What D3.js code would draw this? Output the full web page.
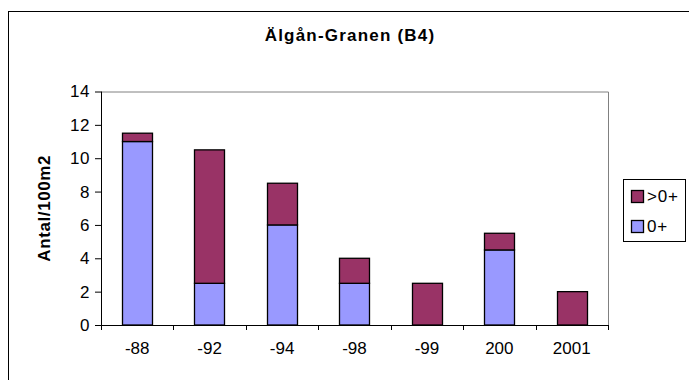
<!DOCTYPE html>
<html><head><meta charset="utf-8">
<script src="https://cdn.jsdelivr.net/npm/d3@7"></script>
<style>body{margin:0;background:#fff}svg{display:block}text{font-family:"Liberation Sans",Arial,sans-serif}</style>
</head><body>
<script>
const categories = ["-88","-92","-94","-98","-99","200","2001"];
const young = [11, 2.5, 6, 2.5, 0, 4.5, 0];      // 0+
const older = [0.5, 8, 2.5, 1.5, 2.5, 1, 2];     // >0+
const yTicks = [0,2,4,6,8,10,12,14];
const seriesNames = ["0+", ">0+"];
const colors = {"0+":"#9999FF", ">0+":"#993366"};

const W = 689, H = 380;
const svg = d3.select("body").append("svg").attr("width", W).attr("height", H);
svg.append("rect").attr("x",8.5).attr("y",11.5).attr("width",W+10).attr("height",H+10)
  .attr("fill","#fff").attr("stroke","#000").attr("stroke-width",1);

const L = 101, R = 608, T = 91.5, B = 325;
const x = d3.scaleBand().domain(categories).range([L, R]).paddingInner(0.58).paddingOuter(0.29);
const y = d3.scaleLinear().domain([0, 14]).range([B, T]);

// plot area border (gray)
svg.append("path").attr("d", `M${L},${T+0.5}H${R+0.5}V${B}`).attr("fill","none").attr("stroke","#808080");

const data = categories.map((c,i)=>({cat:c, "0+":young[i], ">0+":older[i]}));
const stack = d3.stack().keys(seriesNames)(data);
svg.append("g").selectAll("g").data(stack).join("g")
  .attr("fill", d=>colors[d.key])
  .selectAll("rect").data(d=>d.filter(p=>p[1]-p[0]>0)).join("rect")
  .attr("x", d=>Math.round(x(d.data.cat))+0.5)
  .attr("width", Math.round(x.bandwidth()))
  .attr("y", d=>y(d[1]))
  .attr("height", d=>y(d[0])-y(d[1]))
  .attr("stroke","#000").attr("stroke-width",1.3);

// y axis
const ya = svg.append("g").attr("transform",`translate(${L},0)`)
  .call(d3.axisLeft(y).tickValues(yTicks).tickSize(6).tickPadding(5).tickFormat(d3.format("d")));
ya.select(".domain").attr("d", `M0.5,${T}V${B}`).attr("stroke","#000");
ya.selectAll("text").attr("font-size",17).attr("letter-spacing",0.6).attr("fill","#000")
  .attr("font-family","Liberation Sans, Arial, sans-serif");

// x axis
const xa = svg.append("g").attr("transform",`translate(0,${B})`);
xa.append("line").attr("x1",L).attr("x2",R+1).attr("y1",0.5).attr("y2",0.5).attr("stroke","#000");
const step = (R-L)/categories.length;
d3.range(categories.length+1).forEach(i=>{
  const xx = Math.round(L+i*step)+0.5;
  xa.append("line").attr("x1",xx).attr("x2",xx).attr("y1",0).attr("y2",5).attr("stroke","#000");
});
xa.selectAll("text.lbl").data(categories).join("text").attr("class","lbl")
  .attr("x", d=>x(d)+x.bandwidth()/2).attr("y", 29)
  .attr("text-anchor","middle").attr("font-size",17).attr("fill","#000").text(d=>d);

// title
svg.append("text").attr("x",350).attr("y",41).attr("text-anchor","middle")
  .attr("font-size",17).attr("letter-spacing",1.2).attr("font-weight","bold").text("Älgån-Granen (B4)");
// y label
svg.append("text").attr("transform",`translate(50,${(T+B)/2}) rotate(-90)`).attr("text-anchor","middle")
  .attr("font-size",17).attr("letter-spacing",0.6).attr("font-weight","bold").text("Antal/100m2");

// legend
const lg = svg.append("g");
lg.append("rect").attr("x",623.5).attr("y",179.5).attr("width",62).attr("height",62)
  .attr("fill","#fff").attr("stroke","#000");
const legItems = [">0+","0+"];
legItems.forEach((k,i)=>{
  lg.append("rect").attr("x",631.5).attr("y",190.5+i*30).attr("width",12).attr("height",12)
    .attr("fill",colors[k]).attr("stroke","#000").attr("stroke-width",1.3);
  lg.append("text").attr("x",647).attr("y",202+i*30).attr("font-size",17).attr("letter-spacing",0.8).text(k);
});
</script>
</body></html>
